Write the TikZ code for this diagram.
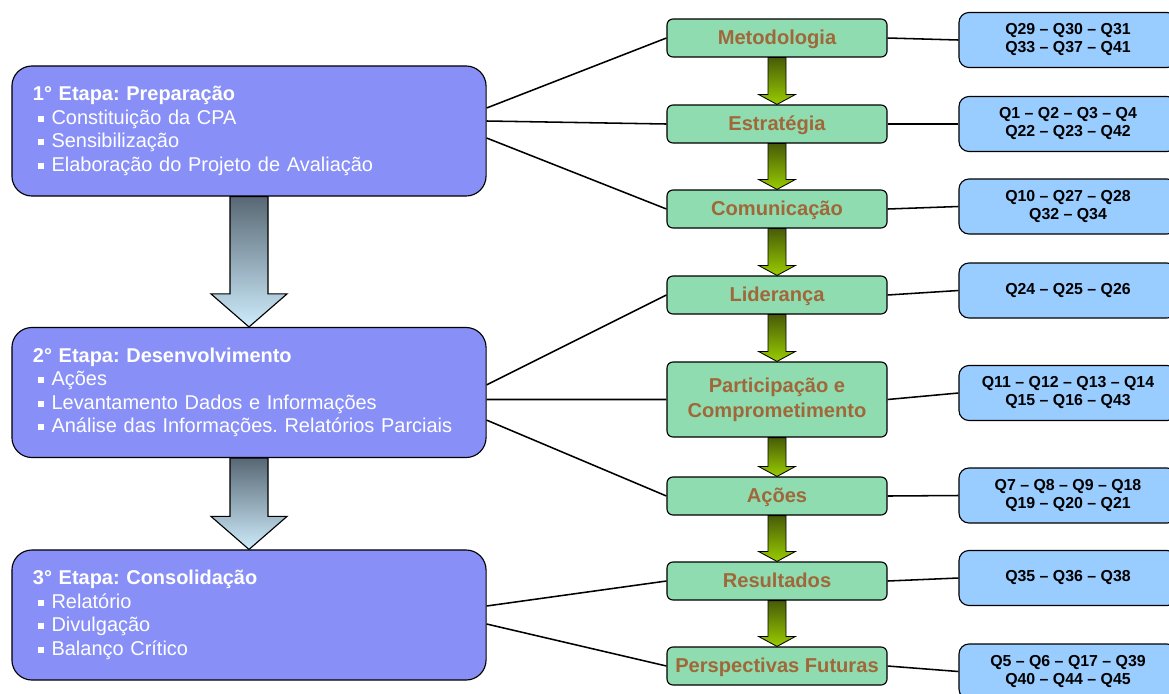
\documentclass[tikz,border=0pt]{standalone}
\usepackage{fontspec}
\setmainfont{Liberation Sans}
\usetikzlibrary{calc}
\frenchspacing
\definecolor{etapablue}{RGB}{136,144,248}
\definecolor{dimgreen}{RGB}{143,220,176}
\definecolor{dimbrown}{RGB}{160,104,58}
\definecolor{qblue}{RGB}{153,204,255}
\definecolor{slatetop}{RGB}{88,104,116}
\definecolor{skybottom}{RGB}{206,236,252}
\definecolor{olivetop}{RGB}{72,92,8}
\definecolor{limebottom}{RGB}{153,204,0}
\newcommand{\bul}{\hspace*{0.125cm}\rule[0.12em]{0.16cm}{0.16cm}\hspace{0.18cm}}

\begin{document}
\begin{tikzpicture}[x=0.025cm, y=-0.025cm,
  etapa/.style={draw=black, line width=0.8pt, fill=etapablue, rounded corners=0.5cm, minimum width=11.85cm, minimum height=3.25cm, text width=10.8cm, align=left, text=white, font=\fontsize{14.2}{16.7}\selectfont},
  dim/.style={draw=black, line width=0.8pt, fill=dimgreen, rounded corners=0.15cm, minimum width=5.5cm, minimum height=0.95cm, align=center, text=dimbrown, font=\fontsize{14.3}{17.5}\selectfont\bfseries},
  dimline/.style={dim, text height=0.95em, text depth=0pt},
  qbox/.style={draw=black, line width=0.8pt, fill=qblue, rounded corners=0.25cm, minimum width=5.45cm, minimum height=1.375cm, align=center, font=\fontsize{11.3}{12.8}\selectfont\bfseries},
  link/.style={line width=1.1pt},
  bigarrow/.style={draw=black, line width=0.8pt, top color=slatetop, bottom color=skybottom},
  smallarrow/.style={draw=black, line width=0.6pt, top color=olivetop, bottom color=limebottom}
]
  \clip (0,0) rectangle (1169,693);

  \node[etapa] (e1) at (249, 131) {\textbf{1° Etapa: Preparação}\\\bul Constituição da CPA\\\bul Sensibilização\\\bul Elaboração do Projeto de Avaliação};
  \node[etapa] (e2) at (249, 392.5) {\textbf{2° Etapa: Desenvolvimento}\\\bul Ações\\\bul Levantamento Dados e Informações\\\bul Análise das Informações. Relatórios Parciais};
  \node[etapa] (e3) at (249, 615) {\textbf{3° Etapa: Consolidação}\\\bul Relatório\\\bul Divulgação\\\bul Balanço Crítico};

  \node[dimline] (met) at (777, 38) {Metodologia};
  \node[dimline] (est) at (777, 124) {Estratégia};
  \node[dimline] (com) at (777, 209) {Comunicação};
  \node[dimline] (lid) at (777, 295) {Liderança};
  \node[dim, minimum height=1.875cm] (par) at (777, 399.5) {Participação e\\Comprometimento};
  \node[dimline] (aco) at (777, 496) {Ações};
  \node[dimline] (res) at (777, 581) {Resultados};
  \node[dimline] (per) at (777, 666) {Perspectivas Futuras};

  \node[qbox] (qmet) at (1068, 40) {Q29 -- Q30 -- Q31\\Q33 -- Q37 -- Q41};
  \node[qbox] (qest) at (1068, 124) {Q1 -- Q2 -- Q3 -- Q4\\Q22 -- Q23 -- Q42};
  \node[qbox] (qcom) at (1068, 206.5) {Q10 -- Q27 -- Q28\\Q32 -- Q34};
  \node[qbox] (qlid) at (1068, 290.5) {Q24 -- Q25 -- Q26};
  \node[qbox] (qpar) at (1068, 393) {Q11 -- Q12 -- Q13 -- Q14\\Q15 -- Q16 -- Q43};
  \node[qbox] (qaco) at (1068, 495.5) {Q7 -- Q8 -- Q9 -- Q18\\Q19 -- Q20 -- Q21};
  \node[qbox] (qres) at (1068, 578) {Q35 -- Q36 -- Q38};
  \node[qbox] (qper) at (1068, 671.5) {Q5 -- Q6 -- Q17 -- Q39\\Q40 -- Q44 -- Q45};

  \foreach \a/\b in {e1/e2, e2/e3}
    \shadedraw[bigarrow] ($(\a.south)+(-19,0)$) -- ($(\b.north)+(-19,-33)$) -- ($(\b.north)+(-38,-33)$) -- (\b.north)
      -- ($(\b.north)+(38,-33)$) -- ($(\b.north)+(19,-33)$) -- ($(\a.south)+(19,0)$) -- cycle;

  \foreach \a/\b in {met/est, est/com, com/lid, lid/par, par/aco, aco/res, res/per}
    \shadedraw[smallarrow] ($(\a.south)+(-9,0)$) -- ($(\b.north)+(-9,-10)$) -- ($(\b.north)+(-18.5,-10)$) -- (\b.north)
      -- ($(\b.north)+(18.5,-10)$) -- ($(\b.north)+(9,-10)$) -- ($(\a.south)+(9,0)$) -- cycle;

  \foreach \g in {met, est, com, lid, par, aco, res, per}
    \draw[link] (\g.east) -- (q\g.west);

  \draw[link] ([yshift=0.575cm]e1.east) -- (met.west);
  \draw[link] ([yshift=0.25cm]e1.east) -- (est.west);
  \draw[link] ([yshift=-0.175cm]e1.east) -- (com.west);
  \draw[link] ([yshift=0.19cm]e2.east) -- (lid.west);
  \draw[link] ([yshift=-0.175cm]e2.east) -- (par.west);
  \draw[link] ([yshift=-0.69cm]e2.east) -- (aco.west);
  \draw[link] ([yshift=0.225cm]e3.east) -- (res.west);
  \draw[link] ([yshift=-0.225cm]e3.east) -- (per.west);
\end{tikzpicture}
\end{document}
